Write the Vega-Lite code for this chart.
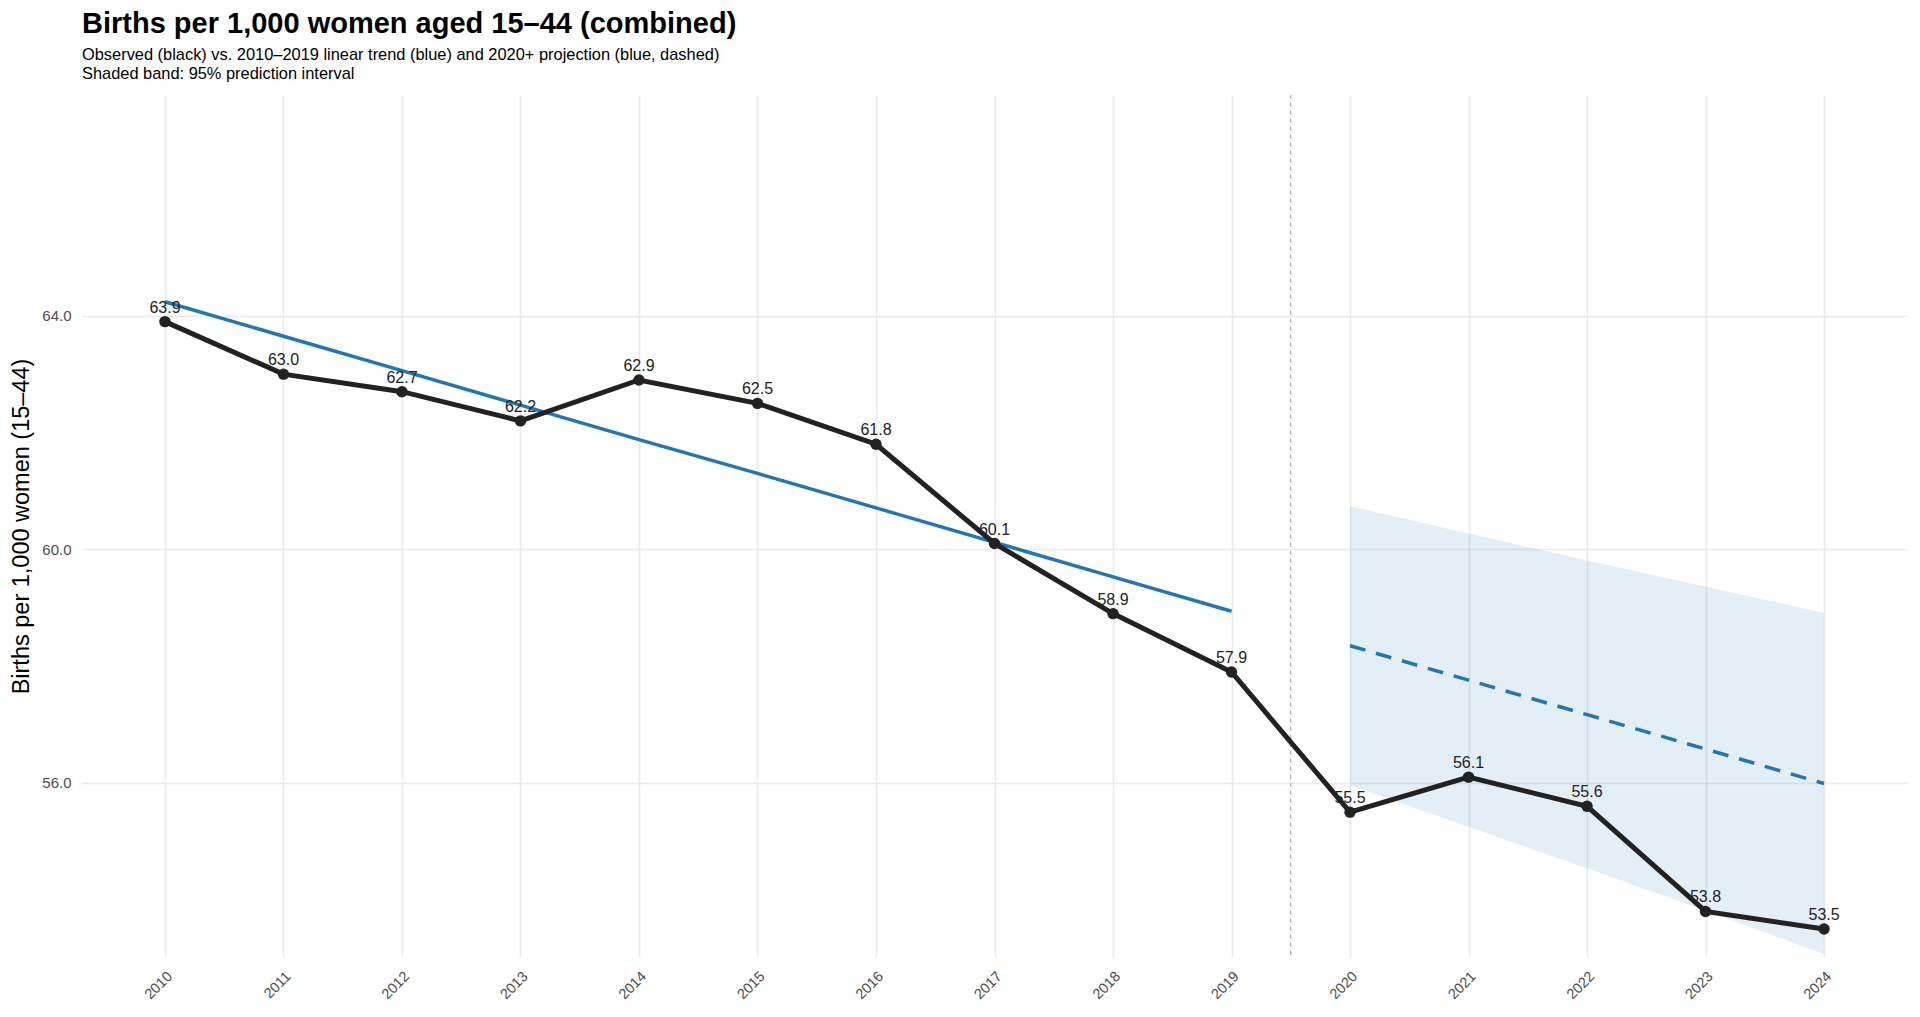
{
  "$schema": "https://vega.github.io/schema/vega-lite/v6.json",
  "width": 1825,
  "height": 862,
  "autosize": {"type": "none"},
  "padding": {"left": 82, "top": 95, "right": 13, "bottom": 60},
  "background": "white",
  "title": {
    "text": "Births per 1,000 women aged 15–44 (combined)",
    "subtitle": ["Observed (black) vs. 2010–2019 linear trend (blue) and 2020+ projection (blue, dashed)", "Shaded band: 95% prediction interval"],
    "anchor": "start",
    "frame": "group",
    "font": "Liberation Sans",
    "fontSize": 29,
    "fontWeight": "bold",
    "color": "#000000",
    "subtitleFont": "Liberation Sans",
    "subtitleFontSize": 16.4,
    "subtitleColor": "#000000",
    "subtitlePadding": 8,
    "subtitleLineHeight": 19,
    "offset": 12
  },
  "datasets": {
    "obs": [
      {"year": 2010, "value": 63.9},
      {"year": 2011, "value": 63.0},
      {"year": 2012, "value": 62.7},
      {"year": 2013, "value": 62.2},
      {"year": 2014, "value": 62.9},
      {"year": 2015, "value": 62.5},
      {"year": 2016, "value": 61.8},
      {"year": 2017, "value": 60.1},
      {"year": 2018, "value": 58.9},
      {"year": 2019, "value": 57.9},
      {"year": 2020, "value": 55.5},
      {"year": 2021, "value": 56.1},
      {"year": 2022, "value": 55.6},
      {"year": 2023, "value": 53.8},
      {"year": 2024, "value": 53.5}
    ],
    "trend": [
      {"year": 2010, "fit": 64.24},
      {"year": 2011, "fit": 63.65},
      {"year": 2012, "fit": 63.06},
      {"year": 2013, "fit": 62.47},
      {"year": 2014, "fit": 61.88},
      {"year": 2015, "fit": 61.30},
      {"year": 2016, "fit": 60.71},
      {"year": 2017, "fit": 60.12},
      {"year": 2018, "fit": 59.53},
      {"year": 2019, "fit": 58.94}
    ],
    "proj": [
      {"year": 2020, "fit": 58.35, "lo": 55.96, "hi": 60.74},
      {"year": 2021, "fit": 57.76, "lo": 55.25, "hi": 60.27},
      {"year": 2022, "fit": 57.17, "lo": 54.54, "hi": 59.81},
      {"year": 2023, "fit": 56.58, "lo": 53.81, "hi": 59.36},
      {"year": 2024, "fit": 55.99, "lo": 53.07, "hi": 58.91}
    ],
    "cut": [{"x": 2019.5}]
  },
  "layer": [
    {
      "data": {"name": "proj"},
      "mark": {"type": "area", "color": "#1f77b4", "opacity": 0.12},
      "encoding": {
        "x": {"field": "year", "type": "quantitative"},
        "y": {"field": "lo", "type": "quantitative"},
        "y2": {"field": "hi"}
      }
    },
    {
      "data": {"name": "cut"},
      "mark": {"type": "rule", "color": "#999999", "strokeWidth": 1, "strokeDash": [4, 4]},
      "encoding": {
        "x": {"field": "x", "type": "quantitative"}
      }
    },
    {
      "data": {"name": "trend"},
      "mark": {"type": "line", "color": "#1f77b4", "strokeWidth": 3.5},
      "encoding": {
        "x": {"field": "year", "type": "quantitative"},
        "y": {"field": "fit", "type": "quantitative"}
      }
    },
    {
      "data": {"name": "proj"},
      "mark": {"type": "line", "color": "#1f77b4", "strokeWidth": 3.5, "strokeDash": [16, 11]},
      "encoding": {
        "x": {"field": "year", "type": "quantitative"},
        "y": {"field": "fit", "type": "quantitative"}
      }
    },
    {
      "data": {"name": "obs"},
      "mark": {"type": "line", "color": "#222222", "strokeWidth": 5},
      "encoding": {
        "x": {"field": "year", "type": "quantitative"},
        "y": {"field": "value", "type": "quantitative"}
      }
    },
    {
      "data": {"name": "obs"},
      "mark": {"type": "point", "filled": true, "color": "#222222", "size": 130, "opacity": 1},
      "encoding": {
        "x": {"field": "year", "type": "quantitative"},
        "y": {"field": "value", "type": "quantitative"}
      }
    },
    {
      "data": {"name": "obs"},
      "mark": {"type": "text", "font": "Liberation Sans", "fontSize": 16, "color": "#222222", "baseline": "alphabetic", "dy": -9},
      "encoding": {
        "x": {"field": "year", "type": "quantitative"},
        "y": {"field": "value", "type": "quantitative"},
        "text": {"field": "value", "type": "quantitative", "format": ".1f"}
      }
    }
  ],
  "encoding": {
    "x": {
      "field": "year",
      "type": "quantitative",
      "scale": {"domain": [2009.3, 2024.7], "nice": false, "zero": false},
      "axis": {
        "title": null,
        "values": [2010, 2011, 2012, 2013, 2014, 2015, 2016, 2017, 2018, 2019, 2020, 2021, 2022, 2023, 2024],
        "format": "d",
        "labelAngle": -45,
        "labelAlign": "right",
        "labelBaseline": "top",
        "labelPadding": 12,
        "labelFontSize": 14.5,
        "labelColor": "#4d4d4d",
        "labelFont": "Liberation Sans",
        "grid": true,
        "gridColor": "#ebebeb",
        "gridWidth": 1.6,
        "ticks": false,
        "domain": false
      }
    },
    "y": {
      "type": "quantitative",
      "scale": {"domain": [53.02, 67.78], "nice": false, "zero": false},
      "axis": {
        "title": "Births per 1,000 women (15–44)",
        "titleFont": "Liberation Sans",
        "titleFontSize": 23.5,
        "titleFontWeight": "normal",
        "titleColor": "#000000",
        "titlePadding": 8,
        "values": [56, 60, 64],
        "format": ".1f",
        "labelFontSize": 15,
        "labelColor": "#4d4d4d",
        "labelFont": "Liberation Sans",
        "labelPadding": 11,
        "grid": true,
        "gridColor": "#ebebeb",
        "gridWidth": 1.6,
        "ticks": false,
        "domain": false
      }
    }
  },
  "config": {
    "view": {"stroke": null},
    "font": "Liberation Sans"
  }
}
